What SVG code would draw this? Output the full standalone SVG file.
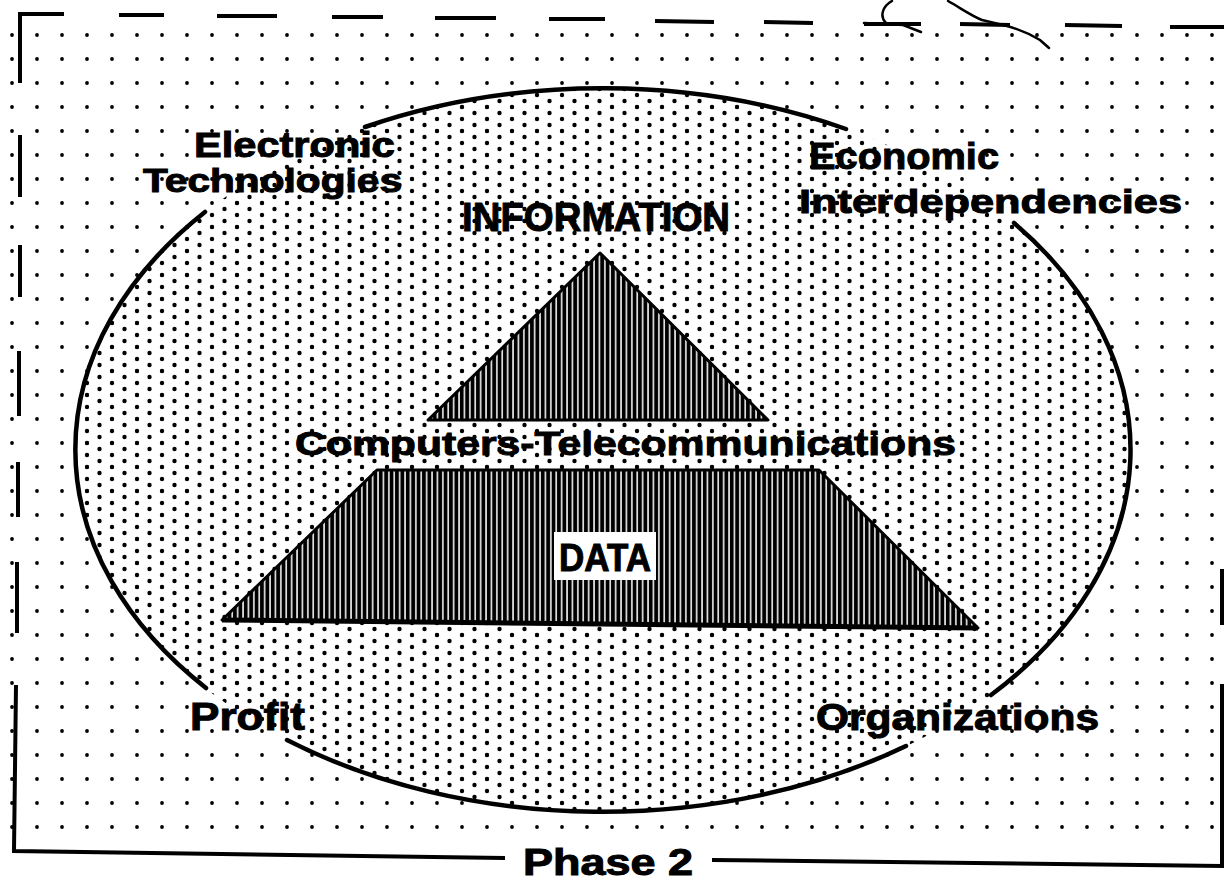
<svg xmlns="http://www.w3.org/2000/svg" width="1224" height="883" viewBox="0 0 1224 883">
  <style>
    .lbl { font-family: "Liberation Sans", Arial, sans-serif; font-weight: bold; fill: #000; stroke: #000; stroke-width: 1; }
    .frame { stroke: #000; stroke-width: 4; fill: none; stroke-linecap: butt; }
    .arc { stroke: #000; stroke-width: 4.5; fill: none; stroke-linecap: round; }
    .tri { stroke: #000; stroke-width: 3; stroke-linejoin: round; fill: url(#hatch); }
    .scrib { stroke: #000; stroke-width: 2.5; fill: none; stroke-linecap: round; stroke-linejoin: round; }
  </style>
  <defs>
    <pattern id="sparse" patternUnits="userSpaceOnUse" x="9" y="32" width="25" height="24">
      <circle cx="3" cy="3" r="1.9" fill="#000"/>
    </pattern>
    <pattern id="dense" patternUnits="userSpaceOnUse" x="9" y="32" width="25" height="24">
      <circle cx="3" cy="3" r="2.2" fill="#000"/>
      <circle cx="3" cy="15" r="2.2" fill="#000"/>
      <circle cx="15.5" cy="9" r="2.2" fill="#000"/>
      <circle cx="15.5" cy="21" r="2.2" fill="#000"/>
    </pattern>
    <pattern id="hatch" patternUnits="userSpaceOnUse" x="0" y="0" width="5.4" height="4">
      <rect x="0" y="0" width="5.4" height="4" fill="#fff"/>
      <rect x="0.8" y="0" width="3.9" height="4" fill="#000"/>
    </pattern>
  </defs>

  <rect x="0" y="0" width="1224" height="883" fill="#fff"/>

  <!-- background dotted field -->
  <rect id="field" x="5" y="28" width="1219" height="818" fill="url(#sparse)"/>

  <!-- frame -->
  <g id="frame">
    <path class="frame" d="M20,83 L20,14 L64,14"/>
    <path class="frame" d="M119,15 L164,15 M217,16 L277,16 M332,17 L383,17 M435,18 L496,18 M549,19 L605,19 M655,21 L714,22 M764,22 L813,23 M864,24 L921,24 M960,24 L1010,25 M1065,25 L1122,26 M1170,27 L1224,27"/>
    <path class="frame" d="M20,135 L20,197 M20,245 L20,297 M19,351 L19,416 M18,462 L18,517 M17,562 L17,633"/>
    <path class="frame" d="M16,685 L14,851 L505,858"/>
    <path class="frame" d="M712,860 L1222,866 L1222,684"/>
    <path class="frame" d="M1222,569 L1222,625"/>
    <path class="scrib" d="M864,23 L903,25 L921,32"/>
    <path class="scrib" d="M886,23 C879,16 883,6 892,1"/>
    <path class="scrib" d="M948,1 C962,9 972,16 982,20 L1003,25 C1016,28 1030,34 1040,40 L1049,48"/>
  </g>

  <!-- ellipse -->
  <g id="ellipse">
    <ellipse cx="603" cy="450" rx="528" ry="362" fill="url(#dense)"/>
    <path class="arc" d="M205,212 A528,362 0 0 0 206,688"/>
    <path class="arc" d="M365,127 A528,362 0 0 1 846,129"/>
    <path class="arc" d="M1014,223 A528,362 0 0 1 991,695"/>
    <path class="arc" d="M906,746 A528,362 0 0 1 287,740"/>
  </g>

  <!-- pyramid -->
  <g id="information-triangle">
    <polygon class="tri" points="600,253 768,420 428,420"/>
  </g>
  <g id="data-trapezoid">
    <polygon class="tri" points="377,470 819,470 978,628 222,620"/>
    <path d="M222,620 L978,628" stroke="#000" stroke-width="5" fill="none"/>
    <rect x="554" y="532" width="102" height="48" fill="#fff"/>
    <text class="lbl" x="559" y="571" font-size="38" textLength="92" lengthAdjust="spacingAndGlyphs">DATA</text>
  </g>

  <!-- labels -->
  <g id="labels">
    <text class="lbl" x="194" y="157" font-size="35" textLength="201" lengthAdjust="spacingAndGlyphs">Electronic</text>
    <text class="lbl" x="143" y="192" font-size="34" textLength="259" lengthAdjust="spacingAndGlyphs">Technologies</text>
    <text class="lbl" x="462" y="231" font-size="40" textLength="268" lengthAdjust="spacingAndGlyphs">INFORMATION</text>
    <text class="lbl" x="809" y="169" font-size="37" textLength="190" lengthAdjust="spacingAndGlyphs">Economic</text>
    <text class="lbl" x="799" y="213" font-size="34" textLength="383" lengthAdjust="spacingAndGlyphs">Interdependencies</text>
    <text class="lbl" x="295" y="455" font-size="34" textLength="661" lengthAdjust="spacingAndGlyphs">Computers-Telecommunications</text>
    <text class="lbl" x="190" y="730" font-size="38" textLength="115" lengthAdjust="spacingAndGlyphs">Profit</text>
    <text class="lbl" x="816" y="730" font-size="36" textLength="283" lengthAdjust="spacingAndGlyphs">Organizations</text>
    <text class="lbl" x="523" y="875" font-size="37" textLength="170" lengthAdjust="spacingAndGlyphs">Phase 2</text>
  </g>
</svg>
